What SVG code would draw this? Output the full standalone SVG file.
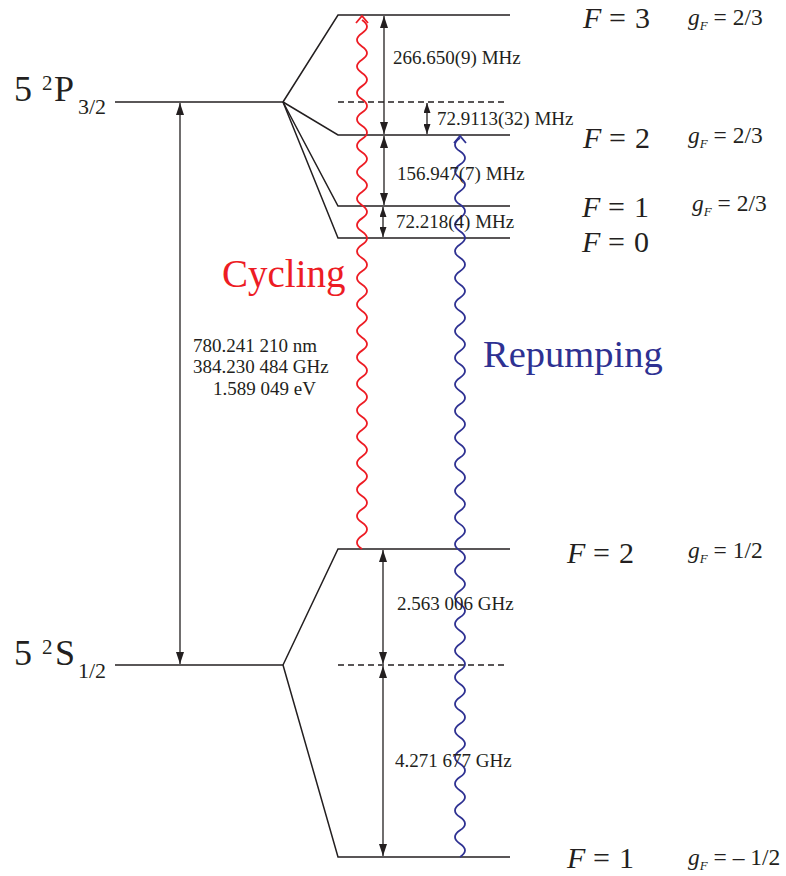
<svg xmlns="http://www.w3.org/2000/svg" width="786" height="876" viewBox="0 0 786 876">
<style>
.lvl{stroke:#231f20;stroke-width:1.5;fill:none}
.dash{stroke:#231f20;stroke-width:1.4;stroke-dasharray:6,4;fill:none}
.arr{stroke:#231f20;stroke-width:1.3;fill:none}
.big{marker-start:url(#hb);marker-end:url(#hb)}
.sm{marker-start:url(#hs);marker-end:url(#hs)}
.t{font-family:"Liberation Serif","Times New Roman",serif;fill:#231f20}
.lab{font-size:19px}
.fl{font-size:30px}
.gl{font-size:23.5px}
.it{font-style:italic}
.red{stroke:#ed1c24;stroke-width:1.8;fill:none}
.blue{stroke:#2e3192;stroke-width:1.8;fill:none}
</style>
<defs>
<marker id="hb" markerUnits="userSpaceOnUse" markerWidth="12" markerHeight="8" refX="12" refY="4" orient="auto-start-reverse"><path d="M0,0 L12,4 L0,8 z" fill="#231f20"/></marker>
<marker id="hs" markerUnits="userSpaceOnUse" markerWidth="10" markerHeight="7" refX="10" refY="3.5" orient="auto-start-reverse"><path d="M0,0 L10,3.5 L0,7 z" fill="#231f20"/></marker>
</defs>
<rect width="786" height="876" fill="#ffffff"/>

<g id="P32">
<line class="lvl" x1="115" y1="102" x2="283" y2="102"/>
<text class="t" x="14" y="101" font-size="36">5</text>
<text class="t" x="42" y="90" font-size="21">2</text>
<text class="t" x="54" y="101" font-size="36">P</text>
<text class="t" x="78" y="114" font-size="22">3/2</text>
</g>
<g id="S12">
<line class="lvl" x1="115" y1="665" x2="283" y2="665"/>
<text class="t" x="14" y="665" font-size="36">5</text>
<text class="t" x="42" y="654" font-size="21">2</text>
<text class="t" x="55" y="665" font-size="36">S</text>
<text class="t" x="78" y="678" font-size="22">1/2</text>
</g>

<g id="eF3">
<polyline class="lvl" points="283,102 338,15 510,15"/>
<text class="t fl" y="28"><tspan x="583" class="it">F</tspan><tspan x="609">=</tspan><tspan x="635">3</tspan></text>
<text class="t gl" x="688" y="25"><tspan class="it">g</tspan><tspan class="it" font-size="13" dy="5">F</tspan><tspan dy="-5"> = 2/3</tspan></text>
</g>
<g id="eF2">
<polyline class="lvl" points="283,102 338,135 510,135"/>
<text class="t fl" y="148"><tspan x="583" class="it">F</tspan><tspan x="609">=</tspan><tspan x="635">2</tspan></text>
<text class="t gl" x="688" y="143"><tspan class="it">g</tspan><tspan class="it" font-size="13" dy="5">F</tspan><tspan dy="-5"> = 2/3</tspan></text>
</g>
<g id="eF1">
<polyline class="lvl" points="283,102 338,206 510,206"/>
<text class="t fl" y="217"><tspan x="582" class="it">F</tspan><tspan x="608">=</tspan><tspan x="634">1</tspan></text>
<text class="t gl" x="692" y="211"><tspan class="it">g</tspan><tspan class="it" font-size="13" dy="5">F</tspan><tspan dy="-5"> = 2/3</tspan></text>
</g>
<g id="eF0">
<polyline class="lvl" points="283,102 338,238 510,238"/>
<text class="t fl" y="252"><tspan x="582" class="it">F</tspan><tspan x="608">=</tspan><tspan x="634">0</tspan></text>
</g>
<g id="eCenter">
<line class="dash" x1="338" y1="102" x2="506" y2="102"/>
</g>

<g id="gF2">
<polyline class="lvl" points="283,665 338,549 510,549"/>
<text class="t fl" y="563"><tspan x="567" class="it">F</tspan><tspan x="593">=</tspan><tspan x="619">2</tspan></text>
<text class="t gl" x="688" y="558"><tspan class="it">g</tspan><tspan class="it" font-size="13" dy="5">F</tspan><tspan dy="-5"> = 1/2</tspan></text>
</g>
<g id="gF1">
<polyline class="lvl" points="283,665 338,857 510,857"/>
<text class="t fl" y="868"><tspan x="567" class="it">F</tspan><tspan x="593">=</tspan><tspan x="619">1</tspan></text>
<text class="t gl" x="688" y="865"><tspan class="it">g</tspan><tspan class="it" font-size="13" dy="5">F</tspan><tspan dy="-5"> = – 1/2</tspan></text>
</g>
<g id="gCenter">
<line class="dash" x1="338" y1="665" x2="506" y2="665"/>
</g>

<g id="connectors">
<line class="arr big" x1="180" y1="103" x2="180" y2="664"/>
<line class="arr big" x1="384" y1="16" x2="384" y2="134"/>
<line class="arr sm" x1="427" y1="103" x2="427" y2="134"/>
<line class="arr big" x1="384" y1="136" x2="384" y2="205"/>
<line class="arr sm" x1="383" y1="207" x2="383" y2="237"/>
<line class="arr big" x1="383" y1="550" x2="383" y2="664"/>
<line class="arr big" x1="383" y1="666" x2="383" y2="856"/>
<path class="red" d="M362,549 q-10,-6.6125 0,-13.225 t0,-13.225 t0,-13.225 t0,-13.225 t0,-13.225 t0,-13.225 t0,-13.225 t0,-13.225 t0,-13.225 t0,-13.225 t0,-13.225 t0,-13.225 t0,-13.225 t0,-13.225 t0,-13.225 t0,-13.225 t0,-13.225 t0,-13.225 t0,-13.225 t0,-13.225 t0,-13.225 t0,-13.225 t0,-13.225 t0,-13.225 t0,-13.225 t0,-13.225 t0,-13.225 t0,-13.225 t0,-13.225 t0,-13.225 t0,-13.225 t0,-13.225 t0,-13.225 t0,-13.225 t0,-13.225 t0,-13.225 t0,-13.225 t0,-13.225 t0,-13.225 t0,-13.225"/>
<polyline class="red" points="356,23 362,16 368,23"/>
<path class="blue" d="M460,857 q10,-6.6575 0,-13.315 t0,-13.315 t0,-13.315 t0,-13.315 t0,-13.315 t0,-13.315 t0,-13.315 t0,-13.315 t0,-13.315 t0,-13.315 t0,-13.315 t0,-13.315 t0,-13.315 t0,-13.315 t0,-13.315 t0,-13.315 t0,-13.315 t0,-13.315 t0,-13.315 t0,-13.315 t0,-13.315 t0,-13.315 t0,-13.315 t0,-13.315 t0,-13.315 t0,-13.315 t0,-13.315 t0,-13.315 t0,-13.315 t0,-13.315 t0,-13.315 t0,-13.315 t0,-13.315 t0,-13.315 t0,-13.315 t0,-13.315 t0,-13.315 t0,-13.315 t0,-13.315 t0,-13.315 t0,-13.315 t0,-13.315 t0,-13.315 t0,-13.315 t0,-13.315 t0,-13.315 t0,-13.315 t0,-13.315 t0,-13.315 t0,-13.315 t0,-13.315 t0,-13.315 t0,-13.315 t0,-13.315"/>
<polyline class="blue" points="454,143 460,136 466,143"/>
</g>

<g id="labels">
<text class="t lab" x="393" y="64">266.650(9) MHz</text>
<text class="t lab" x="437" y="125">72.9113(32) MHz</text>
<text class="t lab" x="397" y="180">156.947(7) MHz</text>
<text class="t lab" x="396" y="228">72.218(4) MHz</text>
<text class="t lab" x="193" y="352">780.241 210 nm</text>
<text class="t lab" x="193" y="373">384.230 484 GHz</text>
<text class="t lab" x="213" y="395">1.589 049 eV</text>
<text class="t lab" x="397" y="610">2.563 006 GHz</text>
<text class="t lab" x="395" y="767">4.271 677 GHz</text>
<text class="t" x="222" y="287" font-size="39" style="fill:#ed1c24">Cycling</text>
<text class="t" x="483" y="367" font-size="38.5" style="fill:#2e3192">Repumping</text>
</g>
</svg>
